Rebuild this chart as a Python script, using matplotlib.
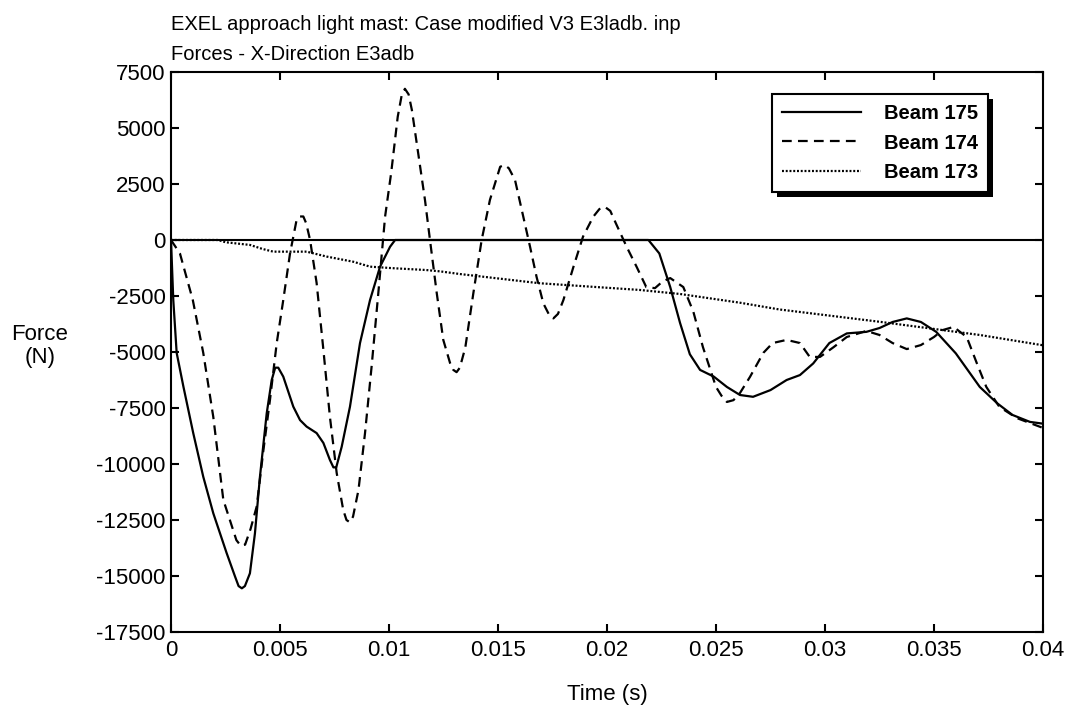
import matplotlib
matplotlib.use("Agg")
import matplotlib.pyplot as plt
import matplotlib.patheffects as pe
import numpy as np

# Beam 175 (solid): time [ms], force [N]
t175 = np.array([
    0.0, 0.105, 0.26, 0.57, 1.02, 1.48, 1.94, 2.55, 2.94, 3.1, 3.25, 3.39,
    3.62, 3.85, 4.08, 4.39, 4.62, 4.78, 4.92, 5.15, 5.61, 5.92, 6.22, 6.68,
    6.99, 7.29, 7.45, 7.58, 7.83, 8.21, 8.67, 9.13, 9.59, 10.05, 10.28,
    21.9, 22.4, 22.9, 23.35, 23.8, 24.27, 24.9, 25.5, 26.1, 26.7, 27.5,
    28.24, 28.85, 29.46, 30.2, 31.0, 31.9, 32.5, 33.1, 33.75, 34.4, 35.1,
    36.0, 37.1, 37.9, 38.6, 39.4, 40.0])
f175 = np.array([
    0, -2680, -5040, -6550, -8620, -10570, -12200, -13970, -15030, -15450,
    -15550, -15450, -14880, -13100, -10570, -7740, -6250, -5700, -5700,
    -6100, -7440, -8040, -8330, -8620, -9060, -9820, -10150, -10150, -9230,
    -7440, -4600, -2680, -1190, -300, 0, 0, -600, -2100, -3700, -5100,
    -5800, -6100, -6560, -6920, -7000, -6700, -6250, -6030, -5510, -4600,
    -4170, -4100, -3930, -3660, -3500, -3660, -4100, -5060, -6560, -7290,
    -7810, -8120, -8200])

# Beam 174 (dashed)
t174 = np.array([
    0.0, 0.41, 1.0, 1.48, 1.94, 2.4, 3.0, 3.2, 3.4, 3.65, 3.93, 4.24, 4.54,
    4.85, 5.15, 5.46, 5.76, 5.92, 6.07, 6.2, 6.38, 6.68, 6.99, 7.29, 7.6,
    7.9, 8.05, 8.2, 8.35, 8.6, 8.9, 9.2, 9.51, 9.82, 10.1, 10.4, 10.58,
    10.73, 10.9, 11.05, 11.35, 11.65, 11.88, 12.19, 12.49, 12.8, 12.95,
    13.1, 13.25, 13.5, 13.87, 14.25, 14.63, 15.1, 15.3, 15.5, 15.78, 16.16,
    16.47, 16.77, 17.08, 17.35, 17.54, 17.75, 18.0, 18.46, 18.9, 19.37,
    19.65, 19.9, 20.15, 20.4, 20.9, 21.36, 21.8, 22.2, 22.55, 22.9, 23.5,
    23.96, 24.4, 25.0, 25.25, 25.5, 25.8, 26.1, 26.56, 27.17, 27.6, 28.24,
    28.85, 29.3, 29.77, 30.4, 31.0, 31.9, 32.5, 33.1, 33.75, 34.4, 35.0,
    35.4, 35.9, 36.5, 36.96, 37.4, 38.0, 38.8, 40.0])
f174 = np.array([
    0, -600, -2680, -5040, -7900, -11600, -13400, -13650, -13600, -12900,
    -11900, -9375, -7140, -4600, -2680, -600, 890, 1050, 1050, 750, 0,
    -1920, -4900, -7900, -10400, -12050, -12500, -12600, -12350, -11160,
    -8620, -5670, -2370, 1040, 3000, 5500, 6450, 6750, 6500, 5800, 3800,
    1790, 0, -2370, -4460, -5490, -5800, -5900, -5700, -4800, -2370, 0,
    1790, 3270, 3350, 3200, 2680, 1040, -300, -1650, -2830, -3350, -3500,
    -3300, -2680, -1200, 150, 1040, 1380, 1480, 1300, 760, -300, -1200,
    -2100, -2150, -1850, -1700, -2100, -3200, -4780, -6560, -6950, -7230,
    -7150, -6830, -6110, -5040, -4600, -4460, -4600, -5220, -5220, -4780,
    -4330, -4060, -4240, -4600, -4870, -4690, -4330, -4020, -3880, -4330,
    -5490, -6560, -7450, -7950, -8390])

# Beam 173 (dotted)
t173 = np.array([
    0.0, 2.16, 2.5, 3.62, 4.2, 4.69, 6.22, 7.14, 8.36, 9.13, 10.2, 11.7,
    12.34, 13.26, 16.9, 21.5, 23.35, 26.1, 27.9, 32.5, 37.1, 40.0])
f173 = np.array([
    0, 0, -100, -220, -400, -520, -520, -740, -970, -1190, -1260, -1340,
    -1400, -1520, -1930, -2230, -2410, -2800, -3100, -3650, -4240, -4700])

x_ticks = [0, 0.005, 0.01, 0.015, 0.02, 0.025, 0.03, 0.035, 0.04]
x_labels = ["0", "0.005", "0.01", "0.015", "0.02", "0.025", "0.03", "0.035", "0.04"]
y_ticks = list(range(-17500, 7501, 2500))

plt.rcParams["font.family"] = ["Liberation Sans", "DejaVu Sans"]
plt.rcParams["lines.scale_dashes"] = False
plt.rcParams["axes.unicode_minus"] = False

fig = plt.figure(figsize=(10.72, 7.07), dpi=100)
ax = fig.add_axes([171 / 1072, 1 - 632 / 707, 872 / 1072, 560 / 707])

line_kw = dict(color="black", lw=1.6, solid_joinstyle="round",
               dash_joinstyle="round", dash_capstyle="butt")
ax.axhline(0, color="black", lw=1.5, zorder=1)
ax.plot(t175 / 1000, f175, label="Beam 175", **line_kw)
ax.plot(t174 / 1000, f174, dashes=(7, 4.5), label="Beam 174", **line_kw)
ax.plot(t173 / 1000, f173, dashes=(1.4, 1.3), label="Beam 173", **line_kw)

ax.set_xlim(0, 0.04)
ax.set_ylim(-17500, 7500)
ax.set_xticks(x_ticks)
ax.set_xticklabels(x_labels)
ax.set_yticks(y_ticks)
ax.tick_params(direction="in", length=6, width=1.5, top=True, right=True,
               labelsize=16)
ax.tick_params(axis="x", pad=6)
ax.tick_params(axis="y", pad=4)
for spine in ax.spines.values():
    spine.set_linewidth(1.5)

ax.set_xlabel("Time (s)", fontsize=16, labelpad=16)
fig.text(40 / 1072, 1 - 346 / 707, "Force\n(N)", fontsize=16, ha="center",
         va="center", linespacing=1.1)

fig.text(171 / 1072, 1 - 24 / 707, "EXEL approach light mast: Case modified V3 E3ladb. inp",
         fontsize=14.5, ha="left", va="center")
fig.text(171 / 1072, 1 - 54 / 707, "Forces - X-Direction E3adb",
         fontsize=14.5, ha="left", va="center")

leg = ax.legend(loc="upper right", bbox_to_anchor=((988 - 171) / 872, 1 - (94 - 72) / 560),
                borderaxespad=0, fancybox=False, edgecolor="black", framealpha=1,
                prop={"weight": "bold", "size": 14.5}, handlelength=3.9,
                handletextpad=1.15, labelspacing=0.52, borderpad=0.5)
leg.get_frame().set_linewidth(1.5)
leg.get_frame().set_path_effects([
    pe.SimplePatchShadow(offset=(3.5, -3.5), shadow_rgbFace="black", alpha=1.0),
    pe.Normal(),
])

fig.savefig("out.png", dpi=100)
